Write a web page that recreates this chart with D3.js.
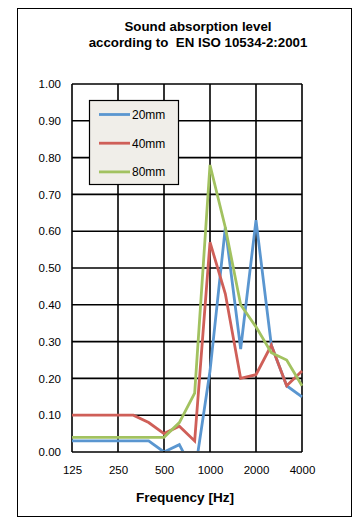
<!DOCTYPE html>
<html><head><meta charset="utf-8">
<script src="https://cdn.jsdelivr.net/npm/d3@7"></script>
<style>
html,body{margin:0;padding:0;background:#fff;}
svg{display:block;font-family:"Liberation Sans",Arial,sans-serif;}
</style></head>
<body><svg id="c" width="355" height="518"></svg>
<script>
const frequencies = ["125","160","200","250","315","400","500","630","800","1000","1250","1600","2000","2500","3150","4000"];
const tickLabels = ["125","250","500","1000","2000","4000"];
const yTicks = [0,0.1,0.2,0.3,0.4,0.5,0.6,0.7,0.8,0.9,1.0];
const s20 = [0.03,0.03,0.03,0.03,0.03,0.03,0.00,0.02,-0.06,0.22,0.61,0.28,0.63,0.29,0.18,0.15];
const s40 = [0.10,0.10,0.10,0.10,0.10,0.08,0.05,0.07,0.03,0.57,0.43,0.20,0.21,0.29,0.18,0.22];
const s80 = [0.04,0.04,0.04,0.04,0.04,0.04,0.04,0.08,0.16,0.78,0.61,0.40,0.34,0.27,0.25,0.18];
const seriesNames = ["20mm","40mm","80mm"];
const colors = ["#5a96d0","#cf5f58","#a2c260"];
const series = [s20,s40,s80];

const svg = d3.select("#c");
svg.append("rect").attr("x",17.5).attr("y",8.5).attr("width",334).attr("height",508)
  .attr("fill","#fff").attr("stroke","#000").attr("stroke-width",1);

const L=72,R=302,T=84,B=452;
const x = d3.scalePoint().domain(frequencies).range([L,R]);
const y = d3.scaleLinear().domain([0,1]).range([B,T]);

// title
const title = svg.append("text").attr("text-anchor","middle")
  .attr("font-weight","bold").attr("font-size",13.3).attr("fill","#000");
title.append("tspan").attr("x",198).attr("y",31).text("Sound absorption level");
title.append("tspan").attr("x",198).attr("y",46.5).attr("xml:space","preserve").text("according to  EN ISO 10534-2:2001");

// grid
const g = svg.append("g");
g.selectAll("line.h").data(yTicks).join("line")
  .attr("x1",L).attr("x2",R).attr("y1",d=>y(d)).attr("y2",d=>y(d))
  .attr("stroke","#000").attr("stroke-width",1.6);
g.selectAll("line.v").data(tickLabels).join("line")
  .attr("x1",d=>x(d)).attr("x2",d=>x(d)).attr("y1",T).attr("y2",B)
  .attr("stroke","#000").attr("stroke-width",1.6);

// axes labels
const yAxis = d3.axisLeft(y).tickValues(yTicks).tickFormat(d3.format(".2f")).tickSize(0).tickPadding(11);
const ya = svg.append("g").attr("transform",`translate(${L},0)`).call(yAxis);
ya.select(".domain").remove();
ya.selectAll("text").attr("font-size",11.5).attr("font-family","Liberation Sans, Arial, sans-serif").attr("fill","#000");

const xAxis = d3.axisBottom(x).tickValues(tickLabels).tickSize(0).tickPadding(14);
const xa = svg.append("g").attr("transform",`translate(0,${B})`).call(xAxis);
xa.select(".domain").remove();
xa.selectAll("text").attr("font-size",11.5).attr("font-family","Liberation Sans, Arial, sans-serif").attr("fill","#000");

svg.append("text").attr("x",185).attr("y",501.5).attr("text-anchor","middle")
  .attr("font-weight","bold").attr("font-size",13.6).text("Frequency [Hz]");

// lines
svg.append("clipPath").attr("id","clip").append("rect").attr("x",L-2).attr("y",T-2).attr("width",R-L+4).attr("height",B-T+1);
const line = d3.line().x((d,i)=>x(frequencies[i])).y(d=>y(d));
svg.append("g").attr("clip-path","url(#clip)").selectAll("path").data(series).join("path")
  .attr("d",line).attr("fill","none").attr("stroke",(d,i)=>colors[i])
  .attr("stroke-width",2.8).attr("stroke-linejoin","miter");

// legend
const lg = svg.append("g");
lg.append("rect").attr("x",89.5).attr("y",100.5).attr("width",89).attr("height",84)
  .attr("fill","#f0eee9").attr("stroke","#000").attr("stroke-width",1.2);
seriesNames.forEach((n,i)=>{
  const yy = 114.5 + i*28.7;
  lg.append("line").attr("x1",99).attr("x2",130).attr("y1",yy).attr("y2",yy)
    .attr("stroke",colors[i]).attr("stroke-width",2.8);
  lg.append("text").attr("x",132).attr("y",yy+4.3).attr("font-size",12).text(n);
});
</script></body></html>
